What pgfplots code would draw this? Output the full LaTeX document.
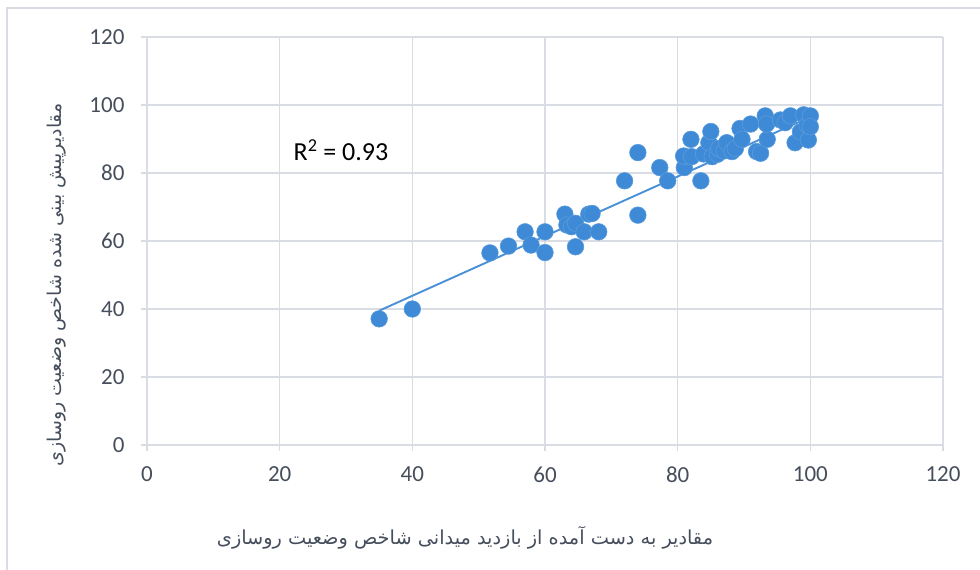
\documentclass[border=0pt]{standalone}
\usepackage{fontspec}
\usepackage{pgfplots}
\pgfplotsset{compat=1.18}
\setmainfont{Carlito}
\newfontfamily\arabicfont[Script=Arabic]{DejaVu Sans}
\TeXXeTstate=1
\definecolor{dotblue}{RGB}{62,138,214}
\definecolor{lineblue}{RGB}{74,144,217}
\definecolor{gridc}{RGB}{217,221,227}
\definecolor{txt}{RGB}{70,78,92}
\begin{document}
\begin{tikzpicture}[x=1pt,y=1pt]
\useasboundingbox (0,0) rectangle (980,570);
\draw[gridc,line width=1.5pt] (7,-5) -- (7,562) -- (990,562);
\begin{axis}[
  at={(147pt,125pt)}, anchor=south west,
  scale only axis, width=796pt, height=408pt,
  xmin=0, xmax=120, ymin=0, ymax=120,
  xtick={0,20,...,120}, ytick={0,20,...,120},
  grid=major, major grid style={gridc,line width=1.2pt},
  axis line style={gridc,line width=1.2pt},
  axis x line*=bottom, axis y line*=left,
  tick style={gridc,line width=1.2pt}, tick align=outside,
  major tick length=6pt,
  ticklabel style={font=\fontsize{23}{27}\selectfont, text=txt},
  /pgf/number format/assume math mode=true,
  xticklabel style={yshift=-12pt},
  yticklabel style={xshift=-13pt},
  clip=false,
]
\addplot[lineblue, line width=1.9pt, forget plot] coordinates {(35,39.5) (100,96.5)};
\addplot[only marks, mark=*, mark size=8.3pt, mark options={fill=dotblue, draw=dotblue!85!white, line width=0.6pt}] coordinates {
(35,37.1) (40,40) (51.7,56.5) (54.5,58.5) (57,62.7) (57.9,58.8) (60,62.7) (60,56.6)
(63,67.9) (63.3,64.7) (64,64.2) (64.6,65.2) (64.6,58.3) (65.9,62.7) (66.6,67.9) (67.1,68.1)
(68.1,62.7) (72,77.7) (74,86) (74,67.6) (77.3,81.6) (78.5,77.7) (81,81.6) (81.1,84.8)
(80.9,85) (82.1,84.8) (82,89.9) (83.5,77.7) (83.9,85.6) (84.7,88.9) (85,92.2) (85.2,84.8)
(86,85.5) (86.2,87.2) (87,86.5) (87.4,88.9) (88.2,86.3) (88.7,87.2) (89.4,93.1) (89.7,89.9)
(91,94.4) (91.9,86.3) (92.5,85.8) (93.5,89.9) (93.2,96.8) (93.4,94.4) (95.5,95.6) (96.2,94.8)
(97,96.8) (97.7,88.9) (98.5,92.1) (99,97.1) (99.5,94.1) (99.7,89.7) (100,96.8) (100,93.6)
};
\end{axis}
\node[text=black, font=\fontsize{26}{30}\selectfont] at (341,420) {R\textsuperscript{2} = 0.93};
\node[text=txt, font=\arabicfont\fontsize{19.3}{23}\selectfont] at (465,32) {\beginR مقادیر به دست آمده از بازدید میدانی شاخص وضعیت روسازی\endR};
\node[text=txt, rotate=90, font=\arabicfont\fontsize{19}{23}\selectfont] at (57,285) {\beginR مقادیرپیش بینی شده شاخص وضعیت روسازی\endR};
\end{tikzpicture}
\end{document}
